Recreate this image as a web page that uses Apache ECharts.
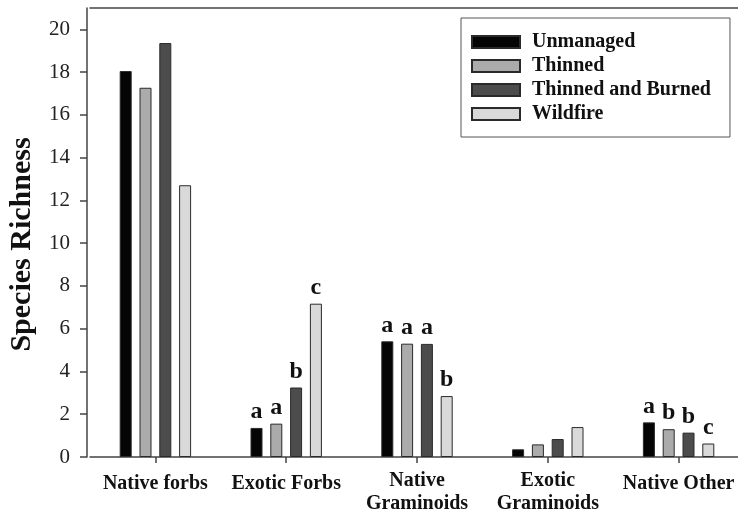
<!DOCTYPE html>
<html>
<head>
<meta charset="utf-8">
<script src="https://cdn.jsdelivr.net/npm/echarts@6/dist/echarts.min.js"></script>
<style>html,body{margin:0;padding:0;background:#fff}#c{width:738px;height:516px}</style>
</head>
<body>
<div id="c"></div>
<script>
const categories = ['Native forbs', 'Exotic Forbs', 'Native\nGraminoids', 'Exotic\nGraminoids', 'Native Other'];
const seriesNames = ['Unmanaged', 'Thinned', 'Thinned and Burned', 'Wildfire'];
const unmanaged = [18.05, 1.36, 5.41, 0.36, 1.62];
const thinned = [17.27, 1.56, 5.30, 0.59, 1.30];
const thinnedBurned = [19.36, 3.25, 5.29, 0.84, 1.14];
const wildfire = [12.71, 7.17, 2.85, 1.40, 0.63];
const lettersUnmanaged = ['', 'a', 'a', '', 'a'];
const lettersThinned = ['', 'a', 'a', '', 'b'];
const lettersThinnedBurned = ['', 'b', 'a', '', 'b'];
const lettersWildfire = ['', 'c', 'b', '', 'c'];
const yTicks = [0, 2, 4, 6, 8, 10, 12, 14, 16, 18, 20];

const colors = ['#050505', '#ababab', '#4c4c4c', '#d9d9d9'];
const values = [unmanaged, thinned, thinnedBurned, wildfire];
const letters = [lettersUnmanaged, lettersThinned, lettersThinnedBurned, lettersWildfire];
const serif = "'Liberation Serif', 'Times New Roman', serif";

const chart = echarts.init(document.getElementById('c'));
chart.setOption({
  animation: false,
  backgroundColor: '#fff',
  grid: { left: 90, top: 8, width: 654, bottom: 59, containLabel: false, outerBoundsMode: 'none' },
  legend: {
    orient: 'vertical',
    left: 461, top: 18,
    data: seriesNames,
    icon: 'rect',
    itemWidth: 48, itemHeight: 12, itemGap: 4,
    padding: [14, 19, 13, 10],
    borderColor: '#555', borderWidth: 1,
    textStyle: { fontFamily: serif, fontWeight: 'bold', fontSize: 20, color: '#111', padding: [0, 0, 0, 7] }
  },
  xAxis: [{
    type: 'category',
    data: categories,
    position: 'bottom',
    axisLine: { lineStyle: { color: '#444', width: 1.5 } },
    axisTick: { show: true, alignWithLabel: true, length: 6, lineStyle: { color: '#444', width: 1.5 } },
    axisLabel: {
      interval: 0, margin: 12,
      fontFamily: serif, fontWeight: 'bold', fontSize: 20, color: '#111', lineHeight: 23,
      formatter: v => v.indexOf('\n') >= 0 ? v : '{s|' + v + '}',
      rich: { s: { fontFamily: serif, fontWeight: 'bold', fontSize: 20, color: '#111', lineHeight: 23, padding: [6, 0, 0, 0] } }
    }
  }, {
    type: 'category',
    data: categories,
    position: 'top',
    axisLine: { show: true, lineStyle: { color: '#444', width: 1.5 } },
    axisTick: { show: false },
    axisLabel: { show: false }
  }],
  yAxis: {
    type: 'value',
    min: 0, max: 21, interval: 2,
    offset: 3,
    name: 'Species Richness',
    nameLocation: 'middle',
    nameGap: 50,
    nameTextStyle: { fontFamily: serif, fontWeight: 'bold', fontSize: 30, color: '#111', padding: [0, 24, 0, 0] },
    axisLine: { show: true, lineStyle: { color: '#444', width: 1.5 } },
    axisTick: { show: true, length: 7, customValues: yTicks, lineStyle: { color: '#444', width: 1.5 } },
    axisLabel: { customValues: yTicks, margin: 17, fontFamily: serif, fontSize: 21, color: '#222' },
    splitLine: { show: false }
  },
  series: seriesNames.map((name, i) => ({
    name: name,
    type: 'bar',
    xAxisIndex: 0,
    data: values[i],
    barWidth: 12,
    barGap: '65%',
    itemStyle: { color: colors[i], borderColor: '#2a2a2a', borderWidth: 1 },
    label: {
      show: true, position: 'top', distance: 4,
      fontFamily: serif, fontWeight: 'bold', fontSize: 24, color: '#111',
      formatter: p => letters[i][p.dataIndex]
    }
  }))
});
</script>
</body>
</html>
